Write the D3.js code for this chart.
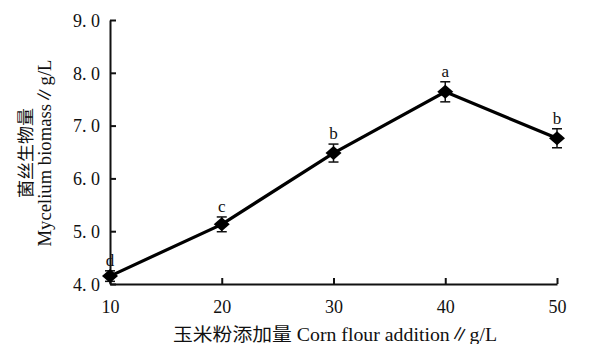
<!DOCTYPE html>
<html>
<head>
<meta charset="utf-8">
<script src="https://cdn.jsdelivr.net/npm/d3@7"></script>
<style>
  body { margin: 0; background: #fff; }
  text { font-family: "Liberation Serif", "Noto Sans CJK SC", serif; fill: #111; }
</style>
</head>
<body>
<div id="wrapper"></div>
<script>
'use strict';
// data
const cornFlour = [10, 20, 30, 40, 50];
const biomass = [4.15, 5.13, 6.48, 7.64, 6.76];
const errors = [0.10, 0.14, 0.17, 0.19, 0.18];
const letters = ['d', 'c', 'b', 'a', 'b'];
const yTicks = [4, 5, 6, 7, 8, 9];

const dataset = cornFlour.map((x, i) => ({x, y: biomass[i], e: errors[i], g: letters[i]}));

const dimensions = {
  width: 610,
  height: 344,
  margin: {top: 20, right: 53, bottom: 60, left: 110}
};
dimensions.plotWidth = dimensions.width - dimensions.margin.left - dimensions.margin.right;
dimensions.plotHeight = dimensions.height - dimensions.margin.top - dimensions.margin.bottom;

const svg = d3.select('#wrapper').append('svg')
  .attr('width', dimensions.width)
  .attr('height', dimensions.height);

const plot = svg.append('g')
  .attr('transform', `translate(${dimensions.margin.left},${dimensions.margin.top})`);

const xScale = d3.scaleLinear().domain([10, 50]).range([0, dimensions.plotWidth]);
const yScale = d3.scaleLinear().domain([4, 9]).range([dimensions.plotHeight, 0]);

// axes
const xAxis = plot.append('g')
  .attr('transform', `translate(0,${dimensions.plotHeight})`)
  .call(d3.axisBottom(xScale).tickValues(cornFlour).tickSize(-6).tickPadding(16).tickSizeOuter(0));
const yAxis = plot.append('g')
  .call(d3.axisLeft(yScale).tickValues(yTicks).tickSize(-6).tickPadding(10).tickSizeOuter(0)
    .tickFormat(d => d.toFixed(1).replace('.', '. ')));

[xAxis, yAxis].forEach(a => {
  a.select('.domain').attr('stroke', '#111').attr('stroke-width', 2);
  a.selectAll('.tick line').attr('stroke', '#111').attr('stroke-width', 2);
  a.selectAll('.tick text').attr('font-size', 18).attr('fill', '#222')
    .style('font-family', '"Liberation Serif", serif');
});
xAxis.selectAll('.tick text').attr('dy', '0.71em');
yAxis.selectAll('.tick text').attr('dy', '0.35em');

// line
const line = d3.line().x(d => xScale(d.x)).y(d => yScale(d.y));
plot.append('path')
  .datum(dataset)
  .attr('d', line)
  .attr('fill', 'none')
  .attr('stroke', '#000')
  .attr('stroke-width', 3.2);

// error bars
const bars = plot.append('g').selectAll('g').data(dataset).join('g')
  .attr('stroke', '#111').attr('stroke-width', 1.5);
bars.append('line')
  .attr('x1', d => xScale(d.x)).attr('x2', d => xScale(d.x))
  .attr('y1', d => yScale(d.y + d.e)).attr('y2', d => yScale(d.y - d.e));
bars.append('line')
  .attr('x1', d => xScale(d.x) - 5).attr('x2', d => xScale(d.x) + 5)
  .attr('y1', d => yScale(d.y + d.e)).attr('y2', d => yScale(d.y + d.e));
bars.append('line')
  .attr('x1', d => xScale(d.x) - 5).attr('x2', d => xScale(d.x) + 5)
  .attr('y1', d => yScale(d.y - d.e)).attr('y2', d => yScale(d.y - d.e));

// diamond markers
plot.append('g').selectAll('path').data(dataset).join('path')
  .attr('d', d => {
    const cx = xScale(d.x), cy = yScale(d.y);
    return `M${cx - 8},${cy}L${cx},${cy - 7}L${cx + 8},${cy}L${cx},${cy + 7}Z`;
  })
  .attr('fill', '#000');

// significance letters
plot.append('g').selectAll('text').data(dataset).join('text')
  .attr('x', d => xScale(d.x))
  .attr('y', d => yScale(d.y + d.e) - 5)
  .attr('text-anchor', 'middle')
  .attr('font-size', 17)
  .attr('fill', '#222')
  .text(d => d.g);

// axis titles
svg.append('text')
  .attr('x', 335).attr('y', 341)
  .attr('text-anchor', 'middle')
  .attr('font-size', 18)
  .attr('fill', '#222')
  .attr('textLength', 324).attr('lengthAdjust', 'spacingAndGlyphs')
  .text('玉米粉添加量 Corn flour addition∥g/L');

const yTitle = svg.append('g').attr('transform', 'translate(0,153) rotate(-90)');
yTitle.append('text')
  .attr('x', 0).attr('y', 32)
  .attr('text-anchor', 'middle')
  .attr('font-size', 17)
  .attr('fill', '#222')
  .attr('textLength', 90).attr('lengthAdjust', 'spacingAndGlyphs')
  .style('font-family', '"Noto Sans CJK SC", sans-serif')
  .text('菌丝生物量');
yTitle.append('text')
  .attr('x', 0).attr('y', 51)
  .attr('text-anchor', 'middle')
  .attr('font-size', 18)
  .attr('fill', '#222')
  .attr('textLength', 187).attr('lengthAdjust', 'spacingAndGlyphs')
  .text('Mycelium biomass∥g/L');
</script>
</body>
</html>
